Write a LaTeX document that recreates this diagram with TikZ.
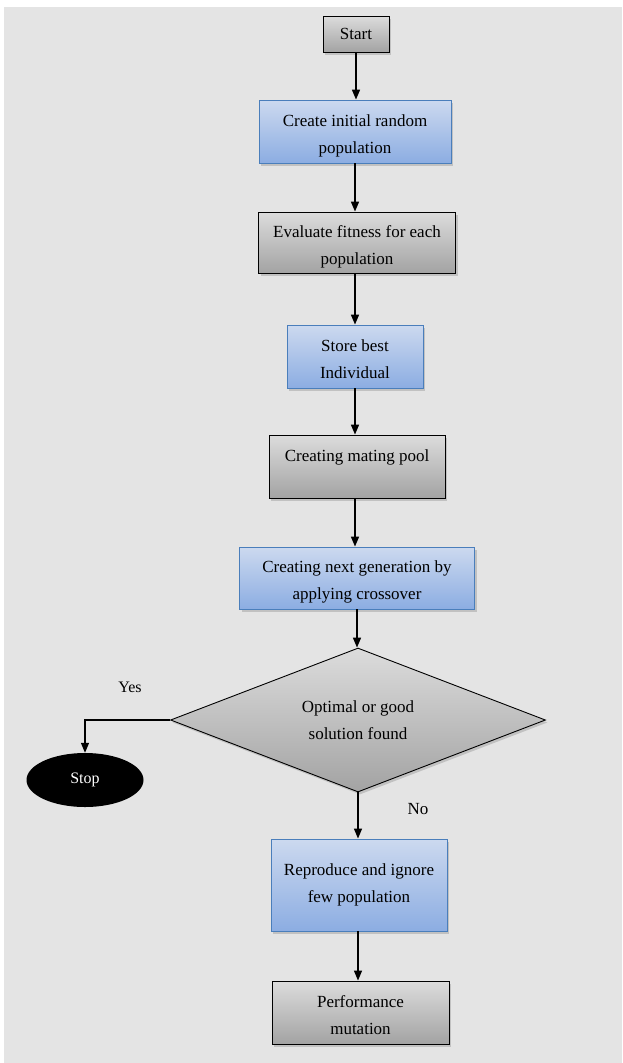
\documentclass[tikz,border=0pt]{standalone}
\usepackage{fontspec}
\setmainfont{Liberation Serif}
\usetikzlibrary{shapes.geometric,arrows.meta,shadows}
\definecolor{bg}{HTML}{E4E4E4}
\definecolor{bluetop}{HTML}{CCD9EF}
\definecolor{bluebot}{HTML}{8CADE2}
\definecolor{blueline}{HTML}{4A7EBB}
\definecolor{graytop}{HTML}{DCDCDC}
\definecolor{graybot}{HTML}{A3A3A3}
\begin{document}
\begin{tikzpicture}[x=1pt,y=-1pt,
  box/.style={rectangle, inner sep=0pt, align=center,
    font=\fontsize{17}{27}\selectfont,
    drop shadow={shadow xshift=2pt, shadow yshift=-2.5pt, opacity=0.35}},
  two/.style={text height=47pt, text depth=4pt},
  bluebox/.style={box, draw=blueline, line width=0.9pt, top color=bluetop, bottom color=bluebot},
  graybox/.style={box, draw=black, line width=0.9pt, top color=graytop, bottom color=graybot},
  arr/.style={-{Triangle[width=8pt,length=10pt]}, line width=1.6pt},
  lbl/.style={font=\fontsize{16}{18}\selectfont, inner sep=0pt}]
\useasboundingbox (0,0) rectangle (622,1063);
\fill[white] (0,0) rectangle (622,1063);
\fill[bg] (4,7) rectangle (622,1063);

\node[graybox, minimum width=66pt, minimum height=36pt] (start) at (356,34) {Start};
\node[bluebox, two, minimum width=192pt, minimum height=63pt] (create) at (355,131.5) {Create initial random\\population};
\node[graybox, two, minimum width=197pt, minimum height=61pt] (eval) at (357,242.5) {Evaluate fitness for each\\population};
\node[bluebox, two, minimum width=136pt, minimum height=63pt] (store) at (355,356.5) {Store best\\Individual};
\node[graybox, text height=12pt, text depth=23pt, minimum width=176pt, minimum height=63pt] (mating) at (357,466.5) {Creating mating pool};
\node[bluebox, two, minimum width=235pt, minimum height=62pt] (nextgen) at (357,578) {Creating next generation by\\applying crossover};
\node[diamond, aspect=2.6, minimum width=375pt, minimum height=144pt, inner sep=0pt,
  draw=black, line width=0.9pt, top color=graytop, bottom color=graybot, align=center,
  font=\fontsize{17}{27}\selectfont,
  drop shadow={shadow xshift=2pt, shadow yshift=-2.5pt, opacity=0.35}] (dec) at (358,720) {Optimal or good\\solution found};
\node[ellipse, fill=black, minimum width=117pt, minimum height=54pt, inner sep=0pt,
  text=white, font=\fontsize{16}{18}\selectfont] (stop) at (85,780) {Stop};
\node[bluebox, minimum width=176pt, minimum height=92pt] (repro) at (359,885) {Reproduce and ignore\\few population};
\node[graybox, two, minimum width=177pt, minimum height=63pt] (perf) at (360.5,1012.5) {Performance\\mutation};
\node[lbl] (yes) at (130,687) {Yes};
\node[lbl, font=\fontsize{17}{18}\selectfont] (no) at (418,809) {No};

\draw[arr] (start.south) -- (start.south |- create.north);
\draw[arr] (create.south) -- (create.south |- eval.north);
\draw[arr] (eval.south -| create.south) -- (create.south |- store.north);
\draw[arr] (store.south) -- (store.south |- mating.north);
\draw[arr] (mating.south -| store.south) -- (store.south |- nextgen.north);
\draw[arr] (nextgen.south) -- (nextgen.south |- dec.north);
\draw[arr, line width=1.3pt] (dec.west) -| (stop.north);
\draw[arr, line width=1.3pt] (dec.south) -- (dec.south |- repro.north);
\draw[arr, line width=1.3pt] (repro.south -| dec.south) -- (dec.south |- perf.north);
\end{tikzpicture}
\end{document}
